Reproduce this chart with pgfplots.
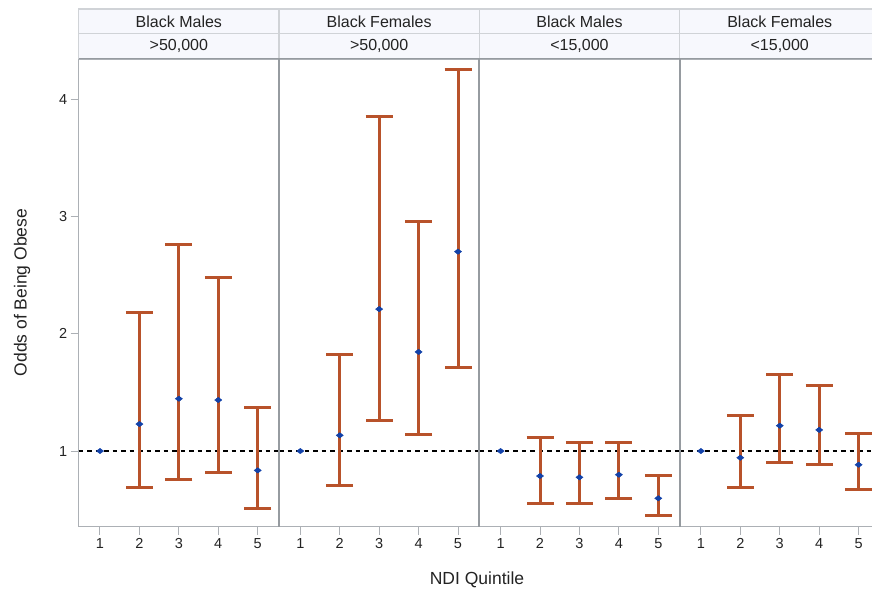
\documentclass[border=0pt]{standalone}
\usepackage{pgfplots}
\pgfplotsset{compat=1.18}
\usepackage{pgfplotstable}
\usepackage{fontspec}
\setmainfont{Liberation Sans}

\definecolor{errc}{RGB}{184,82,42}
\definecolor{markc}{RGB}{18,66,170}
\definecolor{framec}{RGB}{172,176,181}
\definecolor{sepc}{RGB}{150,155,160}
\definecolor{hdrfill}{RGB}{247,248,253}
\definecolor{hdrline}{RGB}{208,211,215}
\definecolor{txt}{RGB}{35,35,35}

% Black Males, >50,000
\pgfplotstableread{
x y lo hi
1 1.000 1.000 1.000
2 1.230 0.687 2.185
3 1.446 0.760 2.765
4 1.435 0.818 2.480
5 0.835 0.508 1.370
}\bmhigh
% Black Females, >50,000
\pgfplotstableread{
x y lo hi
1 1.000 1.000 1.000
2 1.134 0.710 1.820
3 2.210 1.260 3.850
4 1.845 1.140 2.960
5 2.700 1.710 4.250
}\bfhigh
% Black Males, <15,000
\pgfplotstableread{
x y lo hi
1 1.000 1.000 1.000
2 0.787 0.554 1.117
3 0.776 0.554 1.074
4 0.798 0.593 1.071
5 0.597 0.448 0.790
}\bmlow
% Black Females, <15,000
\pgfplotstableread{
x y lo hi
1 1.000 1.000 1.000
2 0.943 0.687 1.300
3 1.216 0.903 1.656
4 1.180 0.889 1.560
5 0.883 0.676 1.153
}\bflow

\pgfplotsset{
  panel/.style={
    scale only axis, width=200.3pt, height=467.4pt,
    anchor=south west,
    xmin=0.46, xmax=5.54, ymin=0.355, ymax=4.34,
    axis line style={draw=framec, line width=1.2pt},
    xtick={1,2,3,4,5}, xtick pos=bottom,
    tick align=outside, major tick length=8pt,
    tick style={draw=framec, line width=1pt},
    ticklabel style={font=\fontsize{14.5}{16}\selectfont, text=txt},
    /pgf/number format/assume math mode=true,
  },
  refline/.style={black, line width=1.2pt, dash pattern=on 4.5pt off 4pt},
  ebars/.style={only marks, mark=none, skip coords between index={0}{1},
    error bars/.cd, y dir=both, y explicit,
    error bar style={line width=3pt, draw=errc},
    error mark options={rotate=90, line width=3pt, mark size=13.5pt, draw=errc}},
  pts/.style={only marks, mark=diamond*, mark size=3.6pt,
    mark options={fill=markc, draw=markc, rotate=90}},
}

\begin{document}
\begin{tikzpicture}[x=1pt,y=1pt]
\useasboundingbox (0,0) rectangle (872,593);
\clip (0,0) rectangle (872,593);

\begin{axis}[panel, at={(78.7pt,66.3pt)}, ytick={1,2,3,4}, ytick pos=left]
  \addplot[refline] coordinates {(0.46,1) (5.54,1)};
  \addplot[ebars] table[x=x, y=y, y error plus expr=\thisrow{hi}-\thisrow{y}, y error minus expr=\thisrow{y}-\thisrow{lo}] {\bmhigh};
  \addplot[pts] table[x=x,y=y] {\bmhigh};
\end{axis}
\begin{axis}[panel, at={(279.0pt,66.3pt)}, ytick=\empty]
  \addplot[refline] coordinates {(0.46,1) (5.54,1)};
  \addplot[ebars] table[x=x, y=y, y error plus expr=\thisrow{hi}-\thisrow{y}, y error minus expr=\thisrow{y}-\thisrow{lo}] {\bfhigh};
  \addplot[pts] table[x=x,y=y] {\bfhigh};
\end{axis}
\begin{axis}[panel, at={(479.3pt,66.3pt)}, ytick=\empty]
  \addplot[refline] coordinates {(0.46,1) (5.54,1)};
  \addplot[ebars] table[x=x, y=y, y error plus expr=\thisrow{hi}-\thisrow{y}, y error minus expr=\thisrow{y}-\thisrow{lo}] {\bmlow};
  \addplot[pts] table[x=x,y=y] {\bmlow};
\end{axis}
\begin{axis}[panel, at={(679.6pt,66.3pt)}, ytick=\empty]
  \addplot[refline] coordinates {(0.46,1) (5.54,1)};
  \addplot[ebars] table[x=x, y=y, y error plus expr=\thisrow{hi}-\thisrow{y}, y error minus expr=\thisrow{y}-\thisrow{lo}] {\bflow};
  \addplot[pts] table[x=x,y=y] {\bflow};
\end{axis}

% panel separators
\foreach \xx in {279.0,479.3,679.6} {
  \draw[sepc, line width=2pt] (\xx,66.3) -- (\xx,534.3);
}

% header cells
\foreach \L/\top/\bot in {78.7/Black Males/>50{,}000, 279.0/Black Females/>50{,}000, 479.3/Black Males/<15{,}000, 679.6/Black Females/<15{,}000} {
  \draw[hdrline, fill=hdrfill, line width=1.5pt] (\L,584) rectangle ++(200.3,-24.6);
  \draw[hdrline, fill=hdrfill, line width=1.5pt] (\L,559.4) rectangle ++(200.3,-25.1);
  \node[text=txt, font=\fontsize{16}{18}\selectfont] at (\L+100.15,571.7) {\top};
  \node[text=txt, font=\fontsize{16}{18}\selectfont] at (\L+100.15,546.9) {\bot};
}
\draw[sepc, line width=1.5pt] (78.7,534.3) -- (880,534.3);

% axis titles
\node[rotate=90, text=txt, font=\fontsize{17.5}{20}\selectfont] at (22,300.5) {Odds of Being Obese};
\node[text=txt, font=\fontsize{17.5}{20}\selectfont] at (477,13) {NDI Quintile};
\end{tikzpicture}
\end{document}
